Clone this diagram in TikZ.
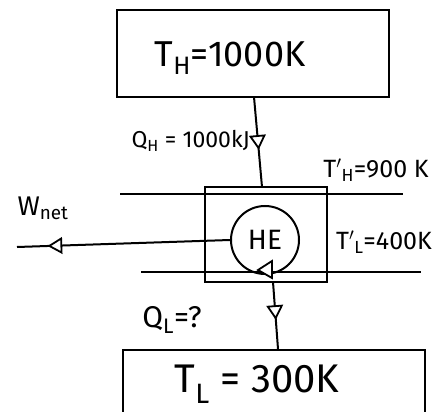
\documentclass[tikz,border=0pt]{standalone}
\usepackage{fontspec}
\setmainfont{Fira Sans}
\usetikzlibrary{arrows.meta,decorations.markings}
\tikzset{
  ln/.style={line width=2pt, black},
  lab/.style={inner sep=0pt, font=\fontsize{23}{25}\selectfont},
  big/.style={inner sep=0pt, font=\fontsize{36}{38}\selectfont},
  tri/.style={postaction={decorate}, decoration={markings, mark=at position #1 with {\draw[line width=1.8pt, fill=white] (6pt,0) -- (-6pt,7pt) -- (-6pt,-7pt) -- cycle;}}}
}
\begin{document}
\begin{tikzpicture}[x=1pt,y=-1pt]
\useasboundingbox (0,0) rectangle (437,412);
% top reservoir
\draw[ln] (117,10) rectangle (389,97);
\node[big] (th) at (230,58) {T\textsubscript{H}=1000K};
\coordinate (topb) at (254,97);
% engine box
\draw[ln] (205,187) rectangle (327,282);
\coordinate (hetop) at (262,187);
\coordinate (hebot) at (273,282);
% horizontal streams
\coordinate (h1a) at (120,194); \coordinate (h1b) at (403,194);
\coordinate (h2a) at (141,272); \coordinate (h2b) at (421,272);
\draw[ln] (h1a) -- (h1b);
\draw[ln] (h2a) -- (h2b);
% circle
\node[ln, draw, circle, minimum size=68pt, inner sep=0pt, font=\fontsize{28}{30}\selectfont] (he) at (265,240) {HE};
\draw[line width=1.8pt, fill=white] (258,270) -- (272,261) -- (272,278) -- cycle;
% heat in
\draw[ln, tri=0.5] (topb) -- (hetop);
\node[lab, anchor=east] (qh) at (250,141) {Q\textsubscript{H} = 1000kJ};
% heat out
\coordinate (tlt) at (278,349);
\draw[ln, tri=0.45] (hebot) -- (tlt);
\node[lab, font=\fontsize{30}{32}\selectfont] (ql) at (172,320) {Q\textsubscript{L}=?};
% work
\coordinate (wend) at (17,247);
\draw[ln, tri=0.82] (he.west) -- (wend);
\node[lab, font=\fontsize{27}{29}\selectfont] (wn) at (43,208) {W\textsubscript{net}};
% side labels
\node[lab, font=\fontsize{25}{27}\selectfont] (thp) at (376,170) {T$'$\textsubscript{H}=900 K};
\node[lab, font=\fontsize{25}{27}\selectfont] (tlp) at (384,242) {T$'$\textsubscript{L}=400K};
% bottom reservoir
\draw[ln] (123,412) -- (123,350) -- (425,350) -- (425,412);
\node[big, font=\fontsize{40}{42}\selectfont] (tl) at (257,384) {T\textsubscript{L} = 300K};
\end{tikzpicture}
\end{document}
